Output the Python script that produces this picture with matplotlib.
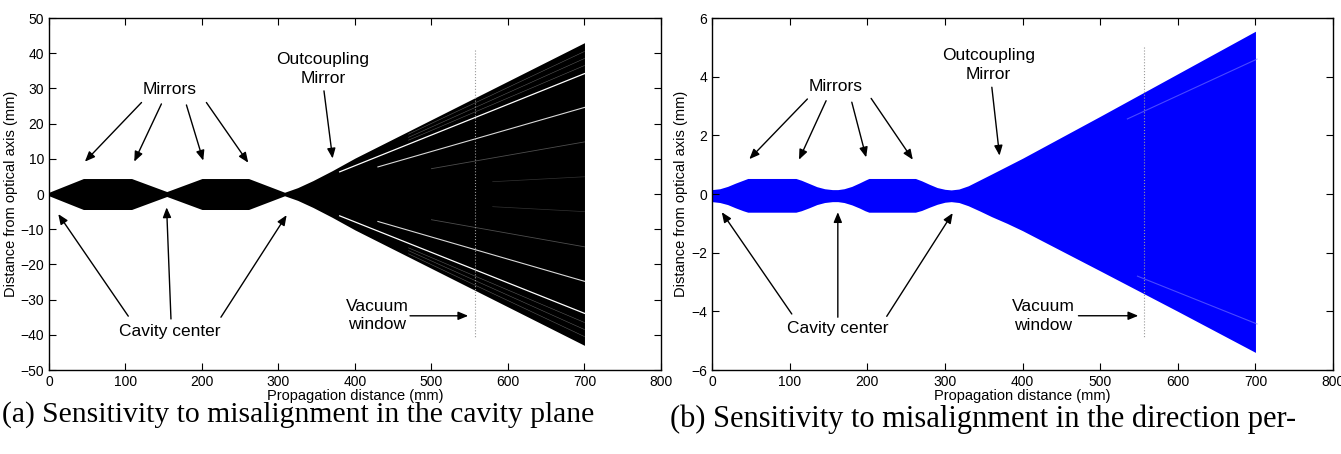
import matplotlib.pyplot as plt
import numpy as np

plt.rcParams['font.family'] = ['Liberation Sans', 'DejaVu Sans']

# ---- panel (a): beam envelope in the cavity plane (mm)
x_a = [0, 45, 108, 154, 200, 261, 308, 325, 345, 370, 400, 700]
upper_a = [0.5, 4.4, 4.4, 0.7, 4.4, 4.4, 0.5, 1.8, 3.8, 6.6, 10.2, 43.0]
lower_a = [-0.5, -4.4, -4.4, -0.7, -4.4, -4.4, -0.5, -1.8, -3.8, -6.6, -10.2, -43.0]

# white gaps between ray bundles (start x, start y, end y at x=700)
gap_x0 = [380, 430, 500, 580, 580, 500, 430, 380, 470, 470, 470, 470, 470, 470]
gap_y0 = [6.3, 7.7, 7.2, 3.5, -3.6, -7.3, -7.8, -6.2,
          15.3, 16.1, 17.0, -15.3, -16.1, -17.0]
gap_y1 = [34.2, 24.6, 14.8, 4.9, -5.0, -15.0, -24.8, -33.9,
          36.5, 38.5, 40.5, -36.5, -38.5, -40.5]
gap_alpha = [1.0, 0.85, 0.3, 0.2, 0.2, 0.3, 0.85, 1.0,
             0.35, 0.35, 0.35, 0.35, 0.35, 0.35]
gap_lw = [0.9, 0.8, 0.6, 0.5, 0.5, 0.6, 0.8, 0.9,
          0.4, 0.4, 0.4, 0.4, 0.4, 0.4]

# ---- panel (b): beam envelope perpendicular to the cavity plane (mm)
x_b = [0, 10, 20, 30, 40, 46, 108, 115, 125, 135, 145, 155, 162, 170, 180, 190,
       197, 202, 262, 270, 280, 290, 300, 308, 318, 330, 345, 360, 380, 400, 500,
       600, 700]
upper_b = [0.15, 0.18, 0.26, 0.37, 0.47, 0.53, 0.53, 0.47, 0.36, 0.25, 0.18, 0.15,
           0.15, 0.18, 0.26, 0.38, 0.47, 0.53, 0.53, 0.45, 0.33, 0.22, 0.16, 0.14,
           0.17, 0.28, 0.48, 0.68, 0.95, 1.22, 2.65, 4.1, 5.55]
lower_b = [-0.26, -0.29, -0.36, -0.47, -0.57, -0.62, -0.62, -0.57, -0.47, -0.36,
           -0.29, -0.26, -0.26, -0.29, -0.37, -0.48, -0.57, -0.62, -0.62, -0.56,
           -0.45, -0.35, -0.28, -0.26, -0.29, -0.40, -0.58, -0.77, -1.0, -1.25,
           -2.62, -4.0, -5.4]

# light streaks inside the blue fan
streak_x = [[535, 702], [548, 702]]
streak_y = [[2.56, 4.6], [-2.8, -4.43]]

window_x = 557

fig = plt.figure(figsize=(13.41, 4.54), dpi=100)
ax1 = fig.add_axes([0.0365, 0.185, 0.4564, 0.7753])
ax2 = fig.add_axes([0.531, 0.185, 0.4631, 0.7753])


def style(ax, ylim, yticks):
    ax.set_xlim(0, 800)
    ax.set_ylim(*ylim)
    ax.set_xticks(range(0, 801, 100))
    ax.set_yticks(yticks)
    ax.tick_params(direction='in', top=True, right=True, length=5,
                   labelsize=10, width=0.8)
    for s in ax.spines.values():
        s.set_linewidth(1.0)
    ax.set_xlabel('Propagation distance (mm)', fontsize=10.5, labelpad=0)
    ax.set_ylabel('Distance from optical axis (mm)', fontsize=10.5, labelpad=2)


def arrow(ax, tail, head):
    ax.annotate('', xy=head, xytext=tail,
                arrowprops=dict(arrowstyle='-|>,head_length=0.6,head_width=0.25',
                                color='k', lw=1.0, shrinkA=0, shrinkB=0))


# ---------- (a)
ax1.fill_between(x_a, lower_a, upper_a, color='black', lw=0)
for x0, y0, y1, a, w in zip(gap_x0, gap_y0, gap_y1, gap_alpha, gap_lw):
    ax1.plot([x0, 700], [y0, y1], color='white', lw=w, alpha=a)
ax1.plot([window_x, window_x], [40.9, -40.9], color='#999999', lw=0.8, ls=':')
style(ax1, (-50, 50), range(-50, 51, 10))

fs = 12.5
ls = 1.3
ax1.text(158, 27.5, 'Mirrors', ha='center', va='bottom', fontsize=fs)
for t, h in zip([(121, 26), (147, 25.6), (179.7, 25.3), (205.8, 26)],
                [(47, 9.2), (111.5, 9.2), (201.7, 9.5), (260.5, 8.9)]):
    arrow(ax1, t, h)
ax1.text(358, 35.5, 'Outcoupling\nMirror', ha='center', va='center',
         fontsize=fs, linespacing=ls)
arrow(ax1, (359.5, 29.3), (370.8, 10.1))
ax1.text(158, -39, 'Cavity center', ha='center', va='center', fontsize=fs)
for t, h in zip([(103.7, -34.7), (159.5, -35.5), (224.8, -35)],
                [(12.2, -5.7), (153.8, -3.8), (310.7, -6)]):
    arrow(ax1, t, h)
ax1.text(429, -34.5, 'Vacuum\nwindow', ha='center', va='center',
         fontsize=fs, linespacing=ls)
arrow(ax1, (472, -34.6), (548, -34.6))

# ---------- (b)
ax2.fill_between(x_b, lower_b, upper_b, color='#0000ff', lw=0)
for sx, sy in zip(streak_x, streak_y):
    ax2.plot(sx, sy, color='#7a7aff', lw=0.8, alpha=0.6)
ax2.plot([window_x, window_x], [5.0, -4.88], color='#999999', lw=0.8, ls=':')
style(ax2, (-6, 6), range(-6, 7, 2))

ax2.text(159.8, 3.42, 'Mirrors', ha='center', va='bottom', fontsize=fs)
for t, h in zip([(122.8, 3.24), (146.9, 3.18), (180, 3.13), (204.9, 3.26)],
                [(48, 1.19), (112, 1.17), (198.5, 1.25), (258.6, 1.17)]):
    arrow(ax2, t, h)
ax2.text(355.7, 4.4, 'Outcoupling\nMirror', ha='center', va='center',
         fontsize=fs, linespacing=ls)
arrow(ax2, (360.4, 3.64), (370.3, 1.31))
ax2.text(162, -4.6, 'Cavity center', ha='center', va='center', fontsize=fs)
for t, h in zip([(102.7, -4.09), (162, -4.2), (225, -4.17)],
                [(12.5, -0.62), (162, -0.62), (310, -0.65)]):
    arrow(ax2, t, h)
ax2.text(426.5, -4.16, 'Vacuum\nwindow', ha='center', va='center',
         fontsize=fs, linespacing=ls)
arrow(ax2, (472, -4.15), (549, -4.15))

# captions
fig.text(0.0015, 0.088, '(a) Sensitivity to misalignment in the cavity plane',
         family='Liberation Serif', fontsize=21.3, va='center', ha='left')
fig.text(0.4996, 0.077, '(b) Sensitivity to misalignment in the direction per-',
         family='Liberation Serif', fontsize=22, va='center', ha='left')

fig.savefig('out.png', dpi=100)
